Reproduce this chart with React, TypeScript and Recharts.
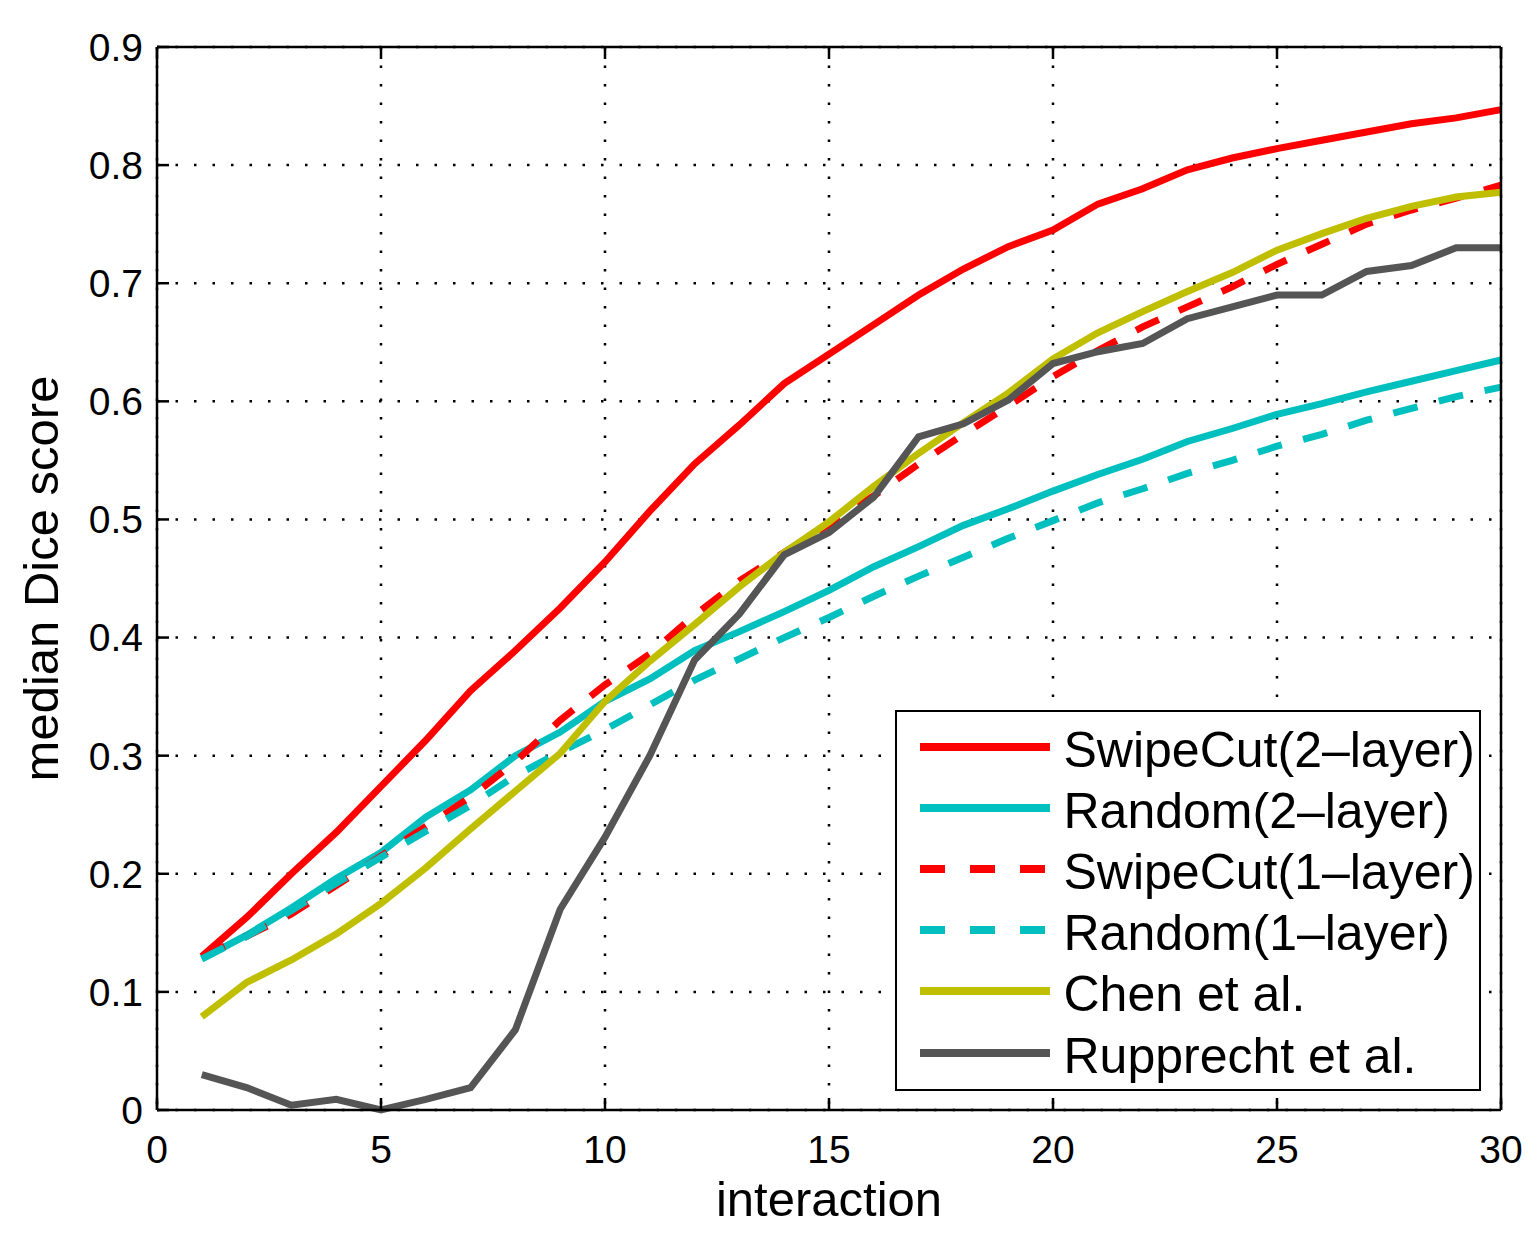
import { LineChart, Line, XAxis, YAxis, CartesianGrid, Legend } from 'recharts';

const FONT = '"Liberation Sans", Arial, Helvetica, sans-serif';

const interactions = [1, 2, 3, 4, 5, 6, 7, 8, 9, 10, 11, 12, 13, 14, 15, 16, 17, 18, 19, 20, 21, 22, 23, 24, 25, 26, 27, 28, 29, 30];

const swipeCut2 = [0.13, 0.163, 0.2, 0.235, 0.274, 0.313, 0.355, 0.389, 0.425, 0.464, 0.507, 0.547, 0.58, 0.615, 0.64, 0.665, 0.69, 0.712, 0.731, 0.745, 0.767, 0.78, 0.796, 0.806, 0.814, 0.821, 0.828, 0.835, 0.84, 0.847];
const random2 = [0.128, 0.148, 0.171, 0.196, 0.218, 0.248, 0.271, 0.3, 0.32, 0.346, 0.365, 0.389, 0.405, 0.422, 0.44, 0.46, 0.477, 0.495, 0.509, 0.524, 0.538, 0.551, 0.566, 0.577, 0.589, 0.598, 0.608, 0.617, 0.626, 0.635];
const swipeCut1 = [0.13, 0.147, 0.166, 0.19, 0.215, 0.24, 0.265, 0.295, 0.33, 0.36, 0.386, 0.419, 0.448, 0.472, 0.496, 0.52, 0.547, 0.572, 0.596, 0.621, 0.643, 0.663, 0.68, 0.697, 0.716, 0.733, 0.75, 0.762, 0.772, 0.783];
const random1 = [0.128, 0.147, 0.169, 0.192, 0.214, 0.236, 0.258, 0.283, 0.303, 0.322, 0.343, 0.364, 0.382, 0.4, 0.417, 0.435, 0.452, 0.468, 0.484, 0.499, 0.514, 0.526, 0.539, 0.55, 0.562, 0.572, 0.584, 0.594, 0.604, 0.612];
const chen = [0.079, 0.108, 0.127, 0.149, 0.175, 0.205, 0.238, 0.27, 0.302, 0.346, 0.38, 0.411, 0.443, 0.472, 0.498, 0.528, 0.556, 0.582, 0.607, 0.636, 0.658, 0.676, 0.693, 0.709, 0.728, 0.742, 0.755, 0.765, 0.773, 0.777];
const rupprecht = [0.03, 0.019, 0.004, 0.009, 0.0, 0.009, 0.019, 0.068, 0.17, 0.231, 0.3, 0.381, 0.42, 0.47, 0.489, 0.519, 0.57, 0.581, 0.601, 0.632, 0.642, 0.649, 0.67, 0.68, 0.69, 0.69, 0.71, 0.715, 0.73, 0.73];

const xTicks = [0, 5, 10, 15, 20, 25, 30];
const yTicks = [0, 0.1, 0.2, 0.3, 0.4, 0.5, 0.6, 0.7, 0.8, 0.9];

const series = [
  { key: 'swipeCut2', name: 'SwipeCut(2\u2013layer)', values: swipeCut2, color: '#ff0000', dashed: false },
  { key: 'random2', name: 'Random(2\u2013layer)', values: random2, color: '#00bfbf', dashed: false },
  { key: 'swipeCut1', name: 'SwipeCut(1\u2013layer)', values: swipeCut1, color: '#ff0000', dashed: true },
  { key: 'random1', name: 'Random(1\u2013layer)', values: random1, color: '#00bfbf', dashed: true },
  { key: 'chen', name: 'Chen et al.', values: chen, color: '#bfbf00', dashed: false },
  { key: 'rupprecht', name: 'Rupprecht et al.', values: rupprecht, color: '#555555', dashed: false },
];

const data = interactions.map((x, i) => {
  const row: Record<string, number> = { interaction: x };
  series.forEach((s) => {
    row[s.key] = s.values[i];
  });
  return row;
});

const axisStroke = { stroke: '#000', strokeWidth: 2.5 };
const tickFont = { fill: '#000', fontSize: 39, fontFamily: FONT };

function MatlabLegend() {
  return (
    <div
      style={{
        boxSizing: 'border-box',
        width: 586,
        height: 381,
        border: '2.5px solid #000',
        background: '#fff',
        position: 'relative',
        fontFamily: FONT,
      }}
    >
      {series.map((s, i) => (
        <div
          key={s.key}
          style={{
            position: 'absolute',
            left: 22.5,
            top: 34.5 + i * 61.2 - 30,
            height: 60,
            display: 'flex',
            alignItems: 'center',
          }}
        >
          <svg width={130} height={12} style={{ display: 'block' }}>
            <line
              x1={0}
              y1={6}
              x2={130}
              y2={6}
              stroke={s.color}
              strokeWidth={8}
              strokeDasharray={s.dashed ? '25 25' : undefined}
            />
          </svg>
          <span
            style={{
              marginLeft: 14,
              fontSize: 50,
              lineHeight: '60px',
              color: '#000',
              whiteSpace: 'nowrap',
              position: 'relative',
              top: 3,
            }}
          >
            {s.name}
          </span>
        </div>
      ))}
    </div>
  );
}

function YTitle(props: any) {
  const vb = props.viewBox || { x: 34, y: 39, width: 115, height: 1063 };
  const x = vb.x + 16;
  const y = vb.y + vb.height / 2;
  return (
    <text
      x={x}
      y={y}
      transform={`rotate(-90, ${x}, ${y})`}
      textAnchor="middle"
      fill="#000"
      fontSize={49}
      fontFamily={FONT}
    >
      median Dice score
    </text>
  );
}

export default function App() {
  return (
    <div style={{ width: 1522, height: 1222, background: '#fff' }}>
      <LineChart width={1522} height={1222} data={data} margin={{ top: 38, right: 28, bottom: 10, left: 34 }}>
        <CartesianGrid stroke="#000" strokeWidth={2.5} strokeDasharray="2.5 16" />
        <XAxis
          dataKey="interaction"
          type="number"
          domain={[0, 30]}
          ticks={xTicks}
          interval={0}
          height={110}
          tickSize={-12}
          tickMargin={37}
          axisLine={axisStroke}
          tickLine={axisStroke}
          tick={tickFont}
          label={{ value: 'interaction', position: 'insideBottom', offset: 4, fill: '#000', fontSize: 49, fontFamily: FONT }}
        />
        <XAxis
          xAxisId="t"
          orientation="top"
          dataKey="interaction"
          type="number"
          domain={[0, 30]}
          ticks={xTicks}
          interval={0}
          height={1}
          tickSize={-12}
          axisLine={axisStroke}
          tickLine={axisStroke}
          tickFormatter={() => ''}
        />
        <YAxis
          type="number"
          domain={[0, 0.9]}
          ticks={yTicks}
          interval={0}
          width={115}
          tickSize={-12}
          tickMargin={26}
          axisLine={axisStroke}
          tickLine={axisStroke}
          tick={tickFont}
          tickFormatter={(v: number) => (v === 0 ? '0' : String(v))}
          label={{ content: YTitle }}
        />
        <YAxis
          yAxisId="r"
          orientation="right"
          type="number"
          domain={[0, 0.9]}
          ticks={yTicks}
          interval={0}
          width={1}
          tickSize={-12}
          axisLine={axisStroke}
          tickLine={axisStroke}
          tickFormatter={() => ''}
        />
        {series.map((s) => (
          <Line
            key={s.key}
            type="linear"
            dataKey={s.key}
            name={s.name}
            stroke={s.color}
            strokeWidth={7}
            strokeDasharray={s.dashed ? '25 22' : undefined}
            dot={false}
            activeDot={false}
            isAnimationActive={false}
          />
        ))}
        <Legend
          layout="vertical"
          align="center"
          verticalAlign="middle"
          content={MatlabLegend}
          wrapperStyle={{ left: 887, top: 702, width: 586, height: 381 }}
        />
      </LineChart>
    </div>
  );
}
